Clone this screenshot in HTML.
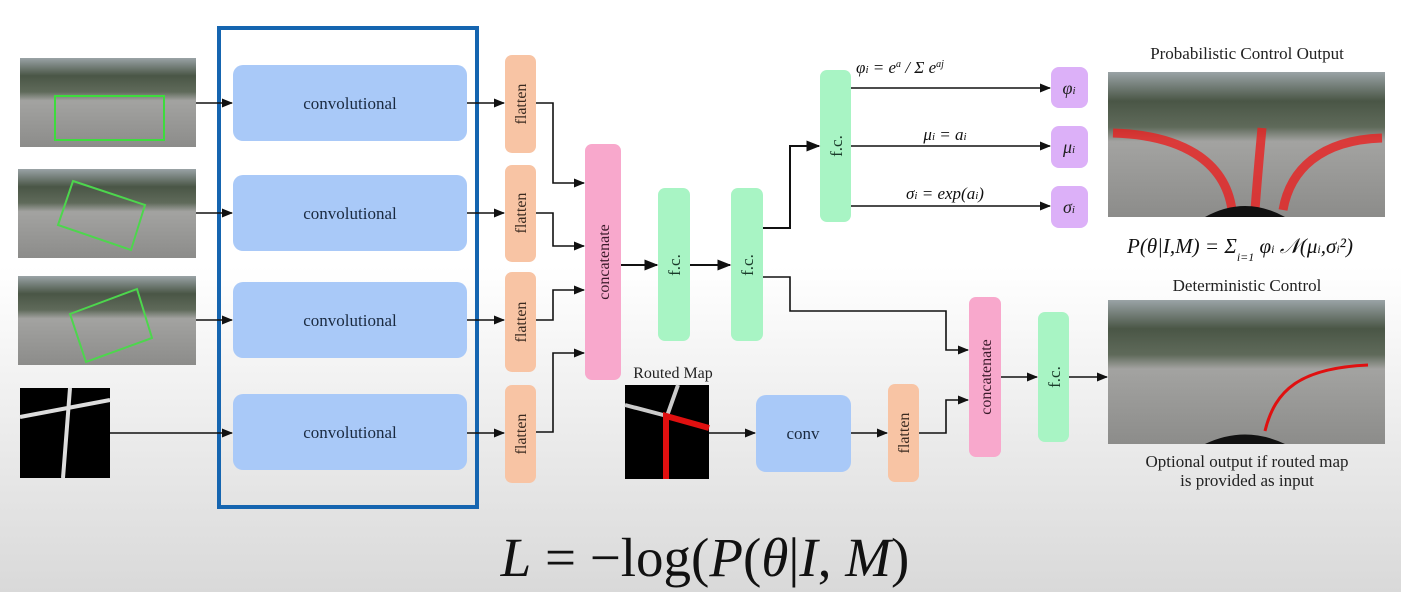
<!DOCTYPE html>
<html><head><meta charset="utf-8"><style>
body{margin:0;width:1401px;height:592px;overflow:hidden;background:linear-gradient(#fff 0%,#fff 45%,#d9d9d9 100%);font-family:"Liberation Serif",serif}
svg{position:absolute;left:0;top:0}
</style></head><body>
<svg width="1401" height="592">
<defs>
<marker id="ah" viewBox="0 0 10 10" refX="9" refY="5" markerWidth="7" markerHeight="7" orient="auto"><path d="M0,1 L10,5 L0,9z" fill="#111"/></marker>
<linearGradient id="photo" x1="0" y1="0" x2="0" y2="1"><stop offset="0" stop-color="#9aa3a6"/><stop offset="0.2" stop-color="#4a5646"/><stop offset="0.38" stop-color="#5f6a5a"/><stop offset="0.48" stop-color="#a3a3a1"/><stop offset="1" stop-color="#8c8c8a"/></linearGradient>
</defs>
<g>
<rect x="20" y="58" width="176" height="89" fill="url(#photo)"/>
<rect x="55" y="96" width="109" height="44" fill="none" stroke="#3ddc3d" stroke-width="2"/>
<rect x="18" y="169" width="178" height="89" fill="url(#photo)"/>
<polygon points="73,181 145,205 131,250 58,225" fill="none" stroke="#4dd64d" stroke-width="2"/>
<rect x="18" y="276" width="178" height="89" fill="url(#photo)"/>
<polygon points="70,314 137,289 152,338 86,362" fill="none" stroke="#4dd64d" stroke-width="2"/>
<rect x="20" y="388" width="90" height="90" fill="#000"/>
<path d="M20,417 L110,400 M70,388 L63,478" stroke="#ddd" stroke-width="4" fill="none"/>
</g>
<rect x="219" y="28" width="258" height="479" fill="none" stroke="#1565b0" stroke-width="4"/>
<g fill="#a9c9f8" font-size="17" text-anchor="middle">
<rect x="233" y="65" width="234" height="76" rx="10"/>
<rect x="233" y="175" width="234" height="76" rx="10"/>
<rect x="233" y="282" width="234" height="76" rx="10"/>
<rect x="233" y="394" width="234" height="76" rx="10"/>
<g fill="#1a2a40"><text x="350" y="109">convolutional</text><text x="350" y="219">convolutional</text><text x="350" y="326">convolutional</text><text x="350" y="438">convolutional</text></g>
</g>
<g font-size="16" text-anchor="middle" fill="#3a2a20">
<rect x="505" y="55" width="31" height="98" rx="7" fill="#f8c4a4"/>
<rect x="505" y="165" width="31" height="97" rx="7" fill="#f8c4a4"/>
<rect x="505" y="272" width="31" height="100" rx="7" fill="#f8c4a4"/>
<rect x="505" y="385" width="31" height="98" rx="7" fill="#f8c4a4"/>
<rect x="888" y="384" width="31" height="98" rx="7" fill="#f8c4a4"/>
<text transform="translate(526,104) rotate(-90)">flatten</text>
<text transform="translate(526,213) rotate(-90)">flatten</text>
<text transform="translate(526,322) rotate(-90)">flatten</text>
<text transform="translate(526,434) rotate(-90)">flatten</text>
<text transform="translate(909,433) rotate(-90)">flatten</text>
</g>
<g font-size="16" text-anchor="middle" fill="#3a1a2a">
<rect x="585" y="144" width="36" height="236" rx="7" fill="#f8a8cc"/>
<rect x="969" y="297" width="32" height="160" rx="7" fill="#f8a8cc"/>
<text transform="translate(609,262) rotate(-90)">concatenate</text>
<text transform="translate(991,377) rotate(-90)">concatenate</text>
</g>
<g font-size="17" text-anchor="middle" fill="#1a3a2a">
<rect x="658" y="188" width="32" height="153" rx="7" fill="#a8f4c4"/>
<rect x="731" y="188" width="32" height="153" rx="7" fill="#a8f4c4"/>
<rect x="820" y="70" width="31" height="152" rx="7" fill="#a8f4c4"/>
<rect x="1038" y="312" width="31" height="130" rx="7" fill="#a8f4c4"/>
<text transform="translate(680,265) rotate(-90)">f.c.</text>
<text transform="translate(753,265) rotate(-90)">f.c.</text>
<text transform="translate(842,146) rotate(-90)">f.c.</text>
<text transform="translate(1060,377) rotate(-90)">f.c.</text>
</g>
<g font-size="18" font-style="italic" text-anchor="middle" fill="#222">
<rect x="1051" y="67" width="37" height="41" rx="8" fill="#dcb0f8"/>
<rect x="1051" y="126" width="37" height="42" rx="8" fill="#dcb0f8"/>
<rect x="1051" y="186" width="37" height="42" rx="8" fill="#dcb0f8"/>
<text x="1069" y="94">φ<tspan font-size="11">i</tspan></text>
<text x="1069" y="153">μ<tspan font-size="11">i</tspan></text>
<text x="1069" y="213">σ<tspan font-size="11">i</tspan></text>
</g>
<rect x="756" y="395" width="95" height="77" rx="10" fill="#a9c9f8"/>
<text x="803" y="439" font-size="17" text-anchor="middle" fill="#1a2a40">conv</text>
<g>
<rect x="625" y="385" width="84" height="94" fill="#000"/>
<path d="M625,405 L667,416 M678,385 L667,416" stroke="#ccc" stroke-width="4" fill="none"/>
<path d="M666,479 L666,416 L709,428" stroke="#e01010" stroke-width="6" fill="none"/>
<text x="673" y="378" font-size="16" text-anchor="middle" fill="#222">Routed Map</text>
</g>
<g stroke="#111" stroke-width="1.6" fill="none" marker-end="url(#ah)">
<path d="M196,103 H232"/><path d="M196,213 H232"/><path d="M196,320 H232"/><path d="M110,433 H232"/>
<path d="M467,103 H504"/><path d="M467,213 H504"/><path d="M467,320 H504"/><path d="M467,433 H504"/>
<path d="M536,103 H553 V183 H584"/><path d="M536,213 H553 V246 H584"/><path d="M536,320 H553 V290 H584"/><path d="M536,432 H553 V353 H584"/>
<path d="M621,265 H657" stroke-width="2"/><path d="M690,265 H730" stroke-width="2"/>
<path d="M763,228 H790 V146 H819" stroke-width="2"/>
<path d="M763,277 H790 V311 H946 V350 H968"/>
<path d="M919,433 H946 V400 H968"/>
<path d="M709,433 H755"/><path d="M851,433 H887"/>
<path d="M1001,377 H1037"/><path d="M1069,377 H1107"/>
<path d="M851,88 H1050"/><path d="M851,146 H1050"/><path d="M851,206 H1050"/>
</g>
<g font-size="17" font-style="italic" text-anchor="middle" fill="#111">
<text x="900" y="73">φ<tspan font-size="11">i</tspan> = e<tspan font-size="10" dy="-6">a</tspan><tspan dy="6"> / Σ e</tspan><tspan font-size="10" dy="-6">aj</tspan></text>
<text x="945" y="140">μ<tspan font-size="11">i</tspan> = a<tspan font-size="11">i</tspan></text>
<text x="945" y="199">σ<tspan font-size="11">i</tspan> = exp(a<tspan font-size="11">i</tspan>)</text>
</g>
<g>
<text x="1247" y="59" font-size="17" text-anchor="middle" fill="#222">Probabilistic Control Output</text>
<rect x="1108" y="72" width="277" height="145" fill="url(#photo)"/>
<path d="M1113,133 C1180,135 1225,160 1232,210 M1255,210 C1258,170 1260,150 1262,128 M1382,138 C1320,140 1290,170 1283,210" stroke="#e82020" stroke-width="9" fill="none" opacity="0.8"/>
<path d="M1205,217 Q1245,195 1285,217 Z" fill="#111"/>
<text x="1240" y="253" font-size="21" font-style="italic" text-anchor="middle" fill="#111">P(θ|I,M) = Σ<tspan font-size="12" dy="8">i=1</tspan><tspan dy="-8"> φ</tspan><tspan font-size="12">i</tspan> 𝒩(μ<tspan font-size="12">i</tspan>,σ<tspan font-size="12">i</tspan>²)</text>
</g>
<g>
<text x="1247" y="291" font-size="17" text-anchor="middle" fill="#222">Deterministic Control</text>
<rect x="1108" y="300" width="277" height="144" fill="url(#photo)"/>
<path d="M1265,431 C1275,390 1300,368 1368,365" stroke="#e01010" stroke-width="3" fill="none"/>
<path d="M1205,444 Q1245,425 1285,444 Z" fill="#111"/>
<text x="1247" y="467" font-size="17" text-anchor="middle" fill="#222">Optional output if routed map</text>
<text x="1247" y="486" font-size="17" text-anchor="middle" fill="#222">is provided as input</text>
</g>
<text x="705" y="576" font-size="55" text-anchor="middle" fill="#111" font-family="Liberation Serif,serif"><tspan font-style="italic">L</tspan> = −log(<tspan font-style="italic">P</tspan>(<tspan font-style="italic">θ</tspan>|<tspan font-style="italic">I</tspan>, <tspan font-style="italic">M</tspan>)</text>
</svg>
</body></html>
